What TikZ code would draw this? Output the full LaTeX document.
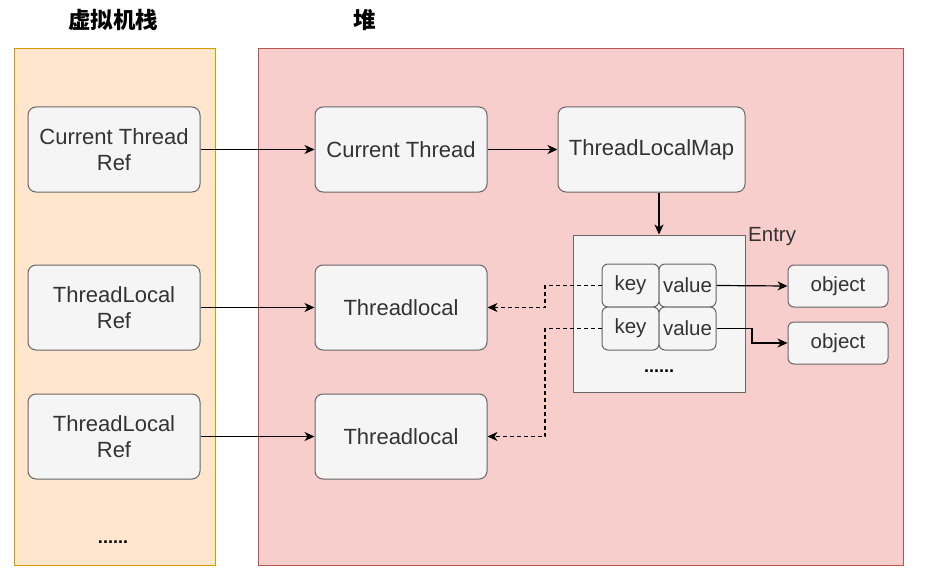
\documentclass[tikz,border=0pt]{standalone}
\usepackage{fontspec}
\setmainfont{Liberation Sans}
\newfontfamily\cjk{Noto Sans CJK SC}
\usetikzlibrary{arrows.meta}
\definecolor{orfill}{HTML}{FFE6CC}
\definecolor{ordraw}{HTML}{D79B00}
\definecolor{rdfill}{HTML}{F8CECC}
\definecolor{rddraw}{HTML}{B85450}
\definecolor{gyfill}{HTML}{F5F5F5}
\definecolor{gydraw}{HTML}{666666}
\definecolor{txt}{HTML}{333333}
\tikzset{
  box/.style={draw=gydraw, fill=gyfill, rounded corners=8pt, line width=1pt, text=txt, font=\fontsize{22}{26}\selectfont, align=center, inner sep=0pt},
  small/.style={draw=gydraw, fill=gyfill, rounded corners=6pt, line width=1pt, text=txt, font=\fontsize{20.5}{24}\selectfont, inner sep=0pt},
  arr/.style={-{Stealth[length=10pt,width=9pt,inset=3pt]}, line width=1.2pt},
  darr/.style={-{Stealth[length=10pt,width=9pt,inset=3pt]}, line width=1.2pt, dash pattern=on 4pt off 3pt},
}
\begin{document}
\begin{tikzpicture}[x=1pt,y=-1pt]
\useasboundingbox (0,0) rectangle (925,583);
% containers
\node[draw=ordraw, fill=orfill, line width=1pt, minimum width=201pt, minimum height=516pt, inner sep=0pt] (stack) at (114.5,307) {};
\node[draw=rddraw, fill=rdfill, line width=1pt, minimum width=645pt, minimum height=516pt, inner sep=0pt] (heap) at (580.5,307) {};
\node[font=\cjk\bfseries\fontsize{22.5}{26}\selectfont] (t1) at (113,20) {虚拟机栈};
\node[font=\cjk\bfseries\fontsize{22.5}{26}\selectfont] (t2) at (365,20) {堆};
% left nodes
\node[box, minimum width=172pt, minimum height=85pt] (ctr) at (114,149.5) {Current Thread\\Ref};
\node[box, minimum width=172pt, minimum height=85pt] (tlr1) at (114,307.5) {ThreadLocal\\Ref};
\node[box, minimum width=172pt, minimum height=85pt] (tlr2) at (114,436.5) {ThreadLocal\\Ref};
\node[font=\bfseries\fontsize{18}{20}\selectfont] (ldots) at (113,542) {......};
% heap nodes
\node[box, minimum width=172pt, minimum height=85pt] (ct) at (401,149.5) {Current Thread};
\node[box, minimum width=187pt, minimum height=85pt] (tlm) at (651.5,149.5) {ThreadLocalMap};
\node[box, minimum width=172pt, minimum height=85pt] (tl1) at (401,307.5) {Threadlocal};
\node[box, minimum width=172pt, minimum height=85pt] (tl2) at (401,436.5) {Threadlocal};
% entry
\node[draw=gydraw, fill=gyfill, line width=1pt, minimum width=172pt, minimum height=157pt, inner sep=0pt] (entry) at (659,313.5) {};
\node[anchor=north west, text=txt, font=\fontsize{20.5}{24}\selectfont, inner sep=0pt] (elab) at (748,227) {Entry};
\node[small, minimum width=57pt, minimum height=43pt] (k1) at (630.5,285.5) {key};
\node[small, minimum width=57pt, minimum height=43pt] (v1) at (687.5,285.5) {value};
\node[small, minimum width=57pt, minimum height=43pt] (k2) at (630.5,328.5) {key};
\node[small, minimum width=57pt, minimum height=43pt] (v2) at (687.5,328.5) {value};
\node[font=\bfseries\fontsize{18}{20}\selectfont] (edots) at (659,371) {......};
\node[small, minimum width=100pt, minimum height=42pt] (o1) at (838,286) {object};
\node[small, minimum width=100pt, minimum height=42pt] (o2) at (838,343) {object};
% connectors
\draw[arr] (ctr.east) -- (ct.west);
\draw[arr] (ct.east) -- (tlm.west);
\draw[arr] (tlm.south -| entry.north) -- (entry.north);
\draw[arr] (tlr1.east) -- (tl1.west);
\draw[arr] (tlr2.east) -- (tl2.west);
\draw[arr] (v1.east) -- (o1.west);
\draw[arr] (v2.east) -- (752,328.5) |- (o2.west);
\draw[darr] (k1.west) -- (545,285.5) |- (tl1.east);
\draw[darr] (k2.west) -- (545,328.5) |- (tl2.east);
\end{tikzpicture}
\end{document}
